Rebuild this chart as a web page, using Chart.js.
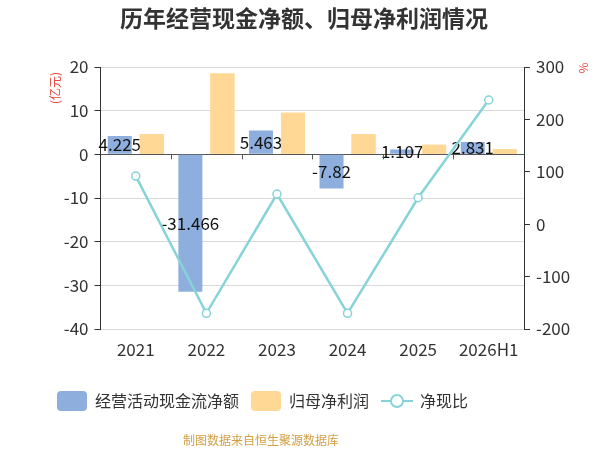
<!DOCTYPE html>
<html>
<head>
<meta charset="utf-8">
<script src="https://cdn.jsdelivr.net/npm/chart.js@4/dist/chart.umd.min.js"></script>
<style>
  html, body { margin: 0; padding: 0; background: #fff; }
  #wrap { width: 600px; height: 450px; }
</style>
</head>
<body>
<div id="wrap"><canvas id="chart"></canvas></div>
<script>
const years = ['2021', '2022', '2023', '2024', '2025', '2026H1'];
const cashFlow = [4.225, -31.466, 5.463, -7.82, 1.107, 2.831];
const netProfit = [4.6, 18.5, 9.5, 4.6, 2.19, 1.19];
const cashRatio = [91.8, -170, 57.5, -170, 50.5, 237];
const leftTicks = [20, 10, 0, -10, -20, -30, -40];
const rightTicks = [300, 200, 100, 0, -100, -200];

const FONT = '"Noto Sans CJK SC", "Noto Sans", sans-serif';
const blue = '#8eaedd';
const orange = '#ffd896';
const teal = '#86d4d7';
const unitRed = '#e8483c';

// labels on the blue bars, then orange redrawn on top (as in the original)
const barLabels = {
  id: 'barLabels',
  afterDatasetDraw(chart, args) {
    if (args.index !== 0) return;
    const ctx = chart.ctx;
    ctx.save();
    ctx.font = '17px ' + FONT;
    ctx.fillStyle = '#111';
    ctx.textAlign = 'center';
    ctx.textBaseline = 'middle';
    args.meta.data.forEach((bar, i) => {
      ctx.fillText(String(cashFlow[i]), bar.x, (bar.y + bar.base) / 2);
    });
    ctx.restore();
    chart.getDatasetMeta(1).controller.draw();
  }
};

// title, units, legend, footer, zero axis ticks
const decorations = {
  id: 'decorations',
  afterDraw(chart) {
    const ctx = chart.ctx;
    const yl = chart.scales.y;
    const x = chart.scales.x;
    ctx.save();

    // x axis sits on zero, tick marks between categories
    const y0 = yl.getPixelForValue(0);
    ctx.strokeStyle = '#555';
    ctx.lineWidth = 1;
    ctx.beginPath();
    for (let i = 1; i < years.length; i++) {
      const px = Math.round((x.getPixelForValue(i - 1) + x.getPixelForValue(i)) / 2) + 0.5;
      ctx.moveTo(px, y0);
      ctx.lineTo(px, y0 + 5);
    }
    ctx.stroke();

    ctx.textAlign = 'center';
    ctx.textBaseline = 'middle';
    ctx.fillStyle = '#333';
    ctx.font = 'bold 23px ' + FONT;
    ctx.fillText('历年经营现金净额、归母净利润情况', 304, 18);

    ctx.fillStyle = unitRed;
    ctx.font = '12px ' + FONT;
    ctx.save();
    ctx.translate(55, 88);
    ctx.rotate(-Math.PI / 2);
    ctx.fillText('(亿元)', 0, 0);
    ctx.restore();
    ctx.save();
    ctx.translate(583, 68);
    ctx.rotate(-Math.PI / 2);
    ctx.fillText('%', 0, 0);
    ctx.restore();

    // legend
    ctx.font = '16px ' + FONT;
    ctx.textAlign = 'left';
    let lx = 57;
    const ly = 401;
    chart.data.datasets.forEach(ds => {
      if (ds.type === 'line') {
        ctx.strokeStyle = teal;
        ctx.lineWidth = 2;
        ctx.beginPath();
        ctx.moveTo(lx, ly);
        ctx.lineTo(lx + 32, ly);
        ctx.stroke();
        ctx.beginPath();
        ctx.arc(lx + 16, ly, 6, 0, Math.PI * 2);
        ctx.fillStyle = '#fff';
        ctx.fill();
        ctx.stroke();
        lx += 39;
      } else {
        ctx.fillStyle = ds.backgroundColor;
        ctx.beginPath();
        ctx.roundRect(lx, ly - 10, 30, 20, 4);
        ctx.fill();
        lx += 38;
      }
      ctx.fillStyle = '#333';
      ctx.fillText(ds.label, lx, ly);
      lx += ctx.measureText(ds.label).width + 12;
    });

    ctx.textAlign = 'center';
    ctx.fillStyle = '#d4a044';
    ctx.font = '12px ' + FONT;
    ctx.fillText('制图数据来自恒生聚源数据库', 261, 440);

    ctx.restore();
  }
};

new Chart(document.getElementById('chart'), {
  data: {
    labels: years,
    datasets: [
      {
        type: 'bar',
        label: '经营活动现金流净额',
        data: cashFlow,
        backgroundColor: blue,
        yAxisID: 'y',
        categoryPercentage: 0.907,
        barPercentage: 0.75
      },
      {
        type: 'bar',
        label: '归母净利润',
        data: netProfit,
        backgroundColor: orange,
        yAxisID: 'y',
        categoryPercentage: 0.907,
        barPercentage: 0.75
      },
      {
        type: 'line',
        label: '净现比',
        data: cashRatio,
        borderColor: teal,
        borderWidth: 2.5,
        pointRadius: 4,
        pointBorderWidth: 1.5,
        pointBackgroundColor: '#fff',
        pointBorderColor: teal,
        yAxisID: 'y1',
        order: -1
      }
    ]
  },
  options: {
    responsive: true,
    maintainAspectRatio: false,
    animation: false,
    layout: { padding: { top: 67, bottom: 76, left: 0, right: 0 } },
    plugins: {
      legend: { display: false },
      title: { display: false },
      tooltip: { enabled: false }
    },
    scales: {
      x: {
        offset: true,
        grid: { display: false },
        border: { display: false },
        ticks: { color: '#333', font: { size: 17, family: FONT }, padding: 2 },
        afterFit(scale) { scale.height = 45; }
      },
      y: {
        position: 'left',
        min: -40,
        max: 20,
        afterBuildTicks(scale) { scale.ticks = leftTicks.map(v => ({ value: v })); },
        grid: {
          color: ctx => (ctx.tick && ctx.tick.value === 0 ? '#555' : '#d9d9d9'),
          tickColor: '#333',
          tickLength: 6
        },
        border: { display: true, color: '#333' },
        ticks: { color: '#333', font: { size: 17, family: FONT }, padding: 6 },
        afterFit(scale) { scale.width = 100.5; }
      },
      y1: {
        position: 'right',
        min: -200,
        max: 300,
        afterBuildTicks(scale) { scale.ticks = rightTicks.map(v => ({ value: v })); },
        grid: { drawOnChartArea: false, tickColor: '#333', tickLength: 6 },
        border: { display: true, color: '#333' },
        ticks: { color: '#333', font: { size: 17, family: FONT }, padding: 6 },
        afterFit(scale) { scale.width = 76; }
      }
    }
  },
  plugins: [barLabels, decorations]
});
</script>
</body>
</html>
